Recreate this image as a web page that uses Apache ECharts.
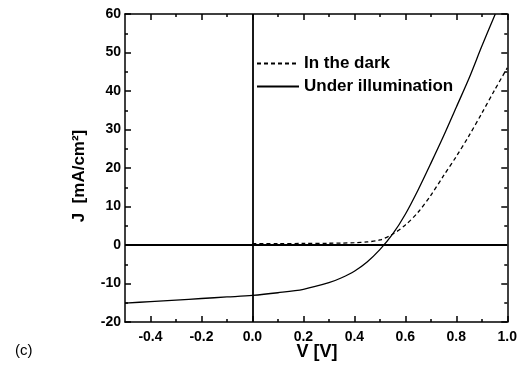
<!DOCTYPE html>
<html>
<head>
<meta charset="utf-8">
<script src="https://cdn.jsdelivr.net/npm/echarts@6/dist/echarts.min.js"></script>
<style>
  html, body { margin: 0; padding: 0; background: #fff; }
  #chart { width: 520px; height: 368px; }
</style>
</head>
<body>
<div id="chart"></div>
<script>
// J-V data
const darkV = [0, 0.1, 0.2, 0.3, 0.35, 0.4, 0.45, 0.5, 0.55, 0.6, 0.65, 0.7, 0.75, 0.8, 0.85, 0.9, 0.95, 1.0];
const darkJ = [0.35, 0.35, 0.4, 0.45, 0.5, 0.6, 0.8, 1.3, 2.8, 5.2, 8.5, 12.9, 18.0, 23.0, 28.4, 34.2, 40.2, 46.0];

const lightV = [-0.5, -0.4, -0.3, -0.2, -0.1, 0, 0.1, 0.2, 0.3, 0.35, 0.4, 0.45, 0.5, 0.55, 0.6, 0.65, 0.7, 0.75, 0.8, 0.85, 0.9, 0.953];
const lightJ = [-15.1, -14.7, -14.3, -13.9, -13.5, -13.1, -12.4, -11.5, -9.8, -8.5, -6.8, -4.4, -1.2, 2.8, 8.0, 14.3, 21.2, 28.3, 35.8, 43.3, 51.6, 60];

const xMajor = [-0.4, -0.2, 0.0, 0.2, 0.4, 0.6, 0.8, 1.0];
const xMinor = [-0.3, -0.1, 0.1, 0.3, 0.5, 0.7, 0.9];

const seriesNames = ['In the dark', 'Under illumination'];

const chart = echarts.init(document.getElementById('chart'));

const lblFont = { color: '#000', fontFamily: 'Liberation Sans, Arial, sans-serif', fontWeight: 'bold', fontSize: 14 };
const black = { color: '#000', width: 1.5 };

function xAx(pos, values, len, labels, line) {
  return {
    type: 'value', position: pos, min: -0.5, max: 1.0,
    axisLine: { show: line, onZero: false, lineStyle: black },
    axisTick: { show: true, inside: true, length: len, customValues: values, lineStyle: black },
    axisLabel: labels ? Object.assign({ show: true, customValues: values, margin: 8,
      formatter: v => v.toFixed(1) }, lblFont) : { show: false },
    splitLine: { show: false }
  };
}

function yAx(pos, labels) {
  return {
    type: 'value', position: pos, min: -20, max: 60, interval: 10,
    axisLine: { show: true, onZero: false, lineStyle: black },
    axisTick: { show: true, inside: true, length: 6, lineStyle: black },
    minorTick: { show: true, splitNumber: 2, length: 3, lineStyle: black },
    axisLabel: labels ? Object.assign({ show: true, margin: 4 }, lblFont) : { show: false },
    splitLine: { show: false }
  };
}

const option = {
  animation: false,
  backgroundColor: '#fff',
  grid: { left: 125, right: 11, top: 14, bottom: 46 },
  legend: {
    data: seriesNames,
    orient: 'vertical',
    left: 251, top: 50,
    itemWidth: 42, itemHeight: 14, itemGap: 6,
    itemStyle: { opacity: 0 },
    textStyle: { color: '#000', fontFamily: 'Liberation Sans, Arial, sans-serif', fontWeight: 'bold', fontSize: 17 }
  },
  xAxis: [
    xAx('bottom', xMajor, 6, true, true),
    xAx('bottom', xMinor, 3, false, false),
    xAx('top', xMajor, 6, false, true),
    xAx('top', xMinor, 3, false, false)
  ],
  yAxis: [yAx('left', true), yAx('right', false)],
  graphic: [
    { type: 'text', left: 15, top: 343, style: { text: '(c)', fill: '#000', font: '15px Liberation Sans, Arial, sans-serif' } },
    { type: 'text', x: 317, y: 352, style: { text: 'V [V]', fill: '#000', align: 'center', verticalAlign: 'middle', font: 'bold 18px Liberation Sans, Arial, sans-serif' } },
    { type: 'text', x: 79, y: 176, rotation: Math.PI / 2, style: { text: 'J  [mA/cm²]', fill: '#000', align: 'center', verticalAlign: 'middle', font: 'bold 17px Liberation Sans, Arial, sans-serif' } }
  ],
  series: [
    {
      name: seriesNames[0], type: 'line', showSymbol: false, symbol: 'none', smooth: 0.3,
      data: darkV.map((v, i) => [v, darkJ[i]]),
      lineStyle: { color: '#000', width: 1.3, type: [4, 3] },
      itemStyle: { color: '#000' }
    },
    {
      name: seriesNames[1], type: 'line', showSymbol: false, symbol: 'none', smooth: 0.3,
      data: lightV.map((v, i) => [v, lightJ[i]]),
      lineStyle: { color: '#000', width: 1.3 },
      itemStyle: { color: '#000' },
      markLine: {
        silent: true, symbol: 'none', animation: false,
        label: { show: false },
        lineStyle: { color: '#000', width: 1.8, type: 'solid' },
        data: [{ xAxis: 0 }, { yAxis: 0 }]
      }
    }
  ]
};

chart.setOption(option);
</script>
</body>
</html>
